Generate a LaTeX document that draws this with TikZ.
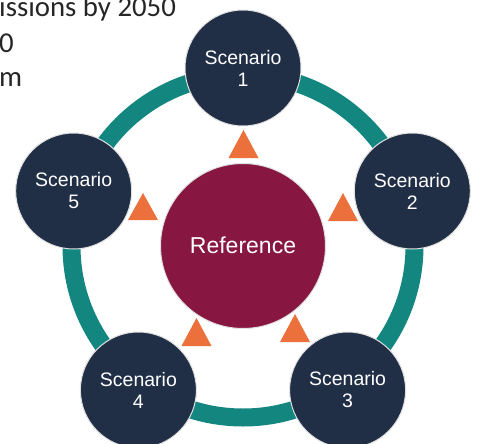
\documentclass[tikz,border=0pt]{standalone}
\usepackage{fontspec}
\setmainfont{Liberation Sans}
\newfontfamily\calibri{Carlito}
\definecolor{navy}{RGB}{33,47,70}
\definecolor{maroon}{RGB}{135,22,64}
\definecolor{teal}{RGB}{19,134,128}
\definecolor{orangetri}{RGB}{236,112,60}
\definecolor{slidetext}{RGB}{38,38,38}
\tikzset{
  scen/.style={circle, fill=navy, draw=black!12, line width=1pt, minimum size=116pt, inner sep=0pt,
    text=white, align=center, font=\fontsize{19.5}{22}\selectfont},
  refnode/.style={circle, fill=maroon, draw=black!12, line width=1pt, minimum size=165pt, inner sep=0pt,
    text=white, font=\fontsize{23}{27}\selectfont},
  ring/.style={draw=teal, line width=18pt},
  tri/.style={fill=orangetri},
  slide/.style={anchor=base west, inner sep=0pt, text=slidetext, font=\calibri\fontsize{28.8}{34}\selectfont}
}
\begin{document}
\begin{tikzpicture}[x=1pt,y=-1pt]
\useasboundingbox (0,0) rectangle (479,444);
\coordinate (c) at (243,246);
% slide text (clipped)
\node[slide] (t1) at (-1,17) {issions by 2050};
\node[slide] (t2) at (-1,52.5) {0};
\node[slide] (t3) at (-1,86) {m};
% ring
\draw[ring] (c) circle[radius=171.5];
% triangles
\newcommand{\mytri}[3]{\fill[tri] (#1-15,#3) -- (#1,#2) -- (#1+15,#3) -- cycle;}
\mytri{243.5}{130}{158}
\mytri{343}{193}{221}
\mytri{143}{193}{220}
\mytri{196.5}{318}{346}
\mytri{295}{314}{342}
% nodes
\node[refnode] (ref) at (c) {\raisebox{2pt}{Reference}};
\node[scen] (s1) at (243,68) {Scenario\\1};
\node[scen] (s2) at (412.3,191) {Scenario\\2};
\node[scen] (s3) at (347.6,390) {Scenario\\3};
\node[scen] (s4) at (138.4,390) {Scenario\\4};
\node[scen] (s5) at (73.7,191) {Scenario\\5};
\end{tikzpicture}
\end{document}
